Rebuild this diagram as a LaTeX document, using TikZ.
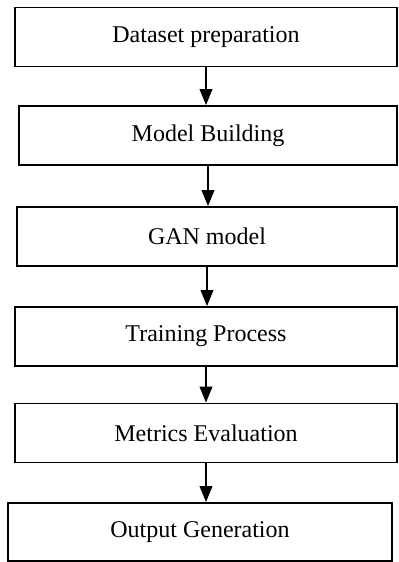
\documentclass[tikz,border=0pt]{standalone}
\usepackage{fontspec}
\setmainfont{Liberation Serif}
\usepackage{tikz}
\usetikzlibrary{arrows.meta, positioning}

\begin{document}
\begin{tikzpicture}[
    stage/.style={rectangle, draw=black, line width=0.9pt, fill=white, minimum height=29.5pt, inner sep=0pt, font=\fontsize{12}{14}\selectfont},
    flow/.style={-{Triangle[width=6.3pt,length=8pt]}, line width=0.9pt}
]
    \useasboundingbox (0,0) rectangle (199pt,-281pt);

    % Pipeline stages
    \node[stage, minimum width=191pt] (data) at (103pt,-18.5pt) {Dataset preparation};
    \node[stage, minimum width=189pt] (build) at (104pt,-67.75pt) {Model Building};
    \node[stage, minimum width=190pt] (gan) at (103.5pt,-118.25pt) {GAN model};
    \node[stage, minimum width=191pt] (train) at (103pt,-168.25pt) {Training Process};
    \node[stage, minimum width=191pt] (eval) at (103pt,-216.5pt) {Metrics Evaluation};
    \node[stage, minimum width=192pt, minimum height=29pt] (output) at (100pt,-266pt) {Output Generation};

    % Arrows
    \draw[flow] (data.south) -- (data.south |- build.north);
    \draw[flow] (build.south) -- (build.south |- gan.north);
    \draw[flow] (gan.south) -- (gan.south |- train.north);
    \draw[flow] (train.south) -- (train.south |- eval.north);
    \draw[flow] (eval.south) -- (eval.south |- output.north);
\end{tikzpicture}
\end{document}
